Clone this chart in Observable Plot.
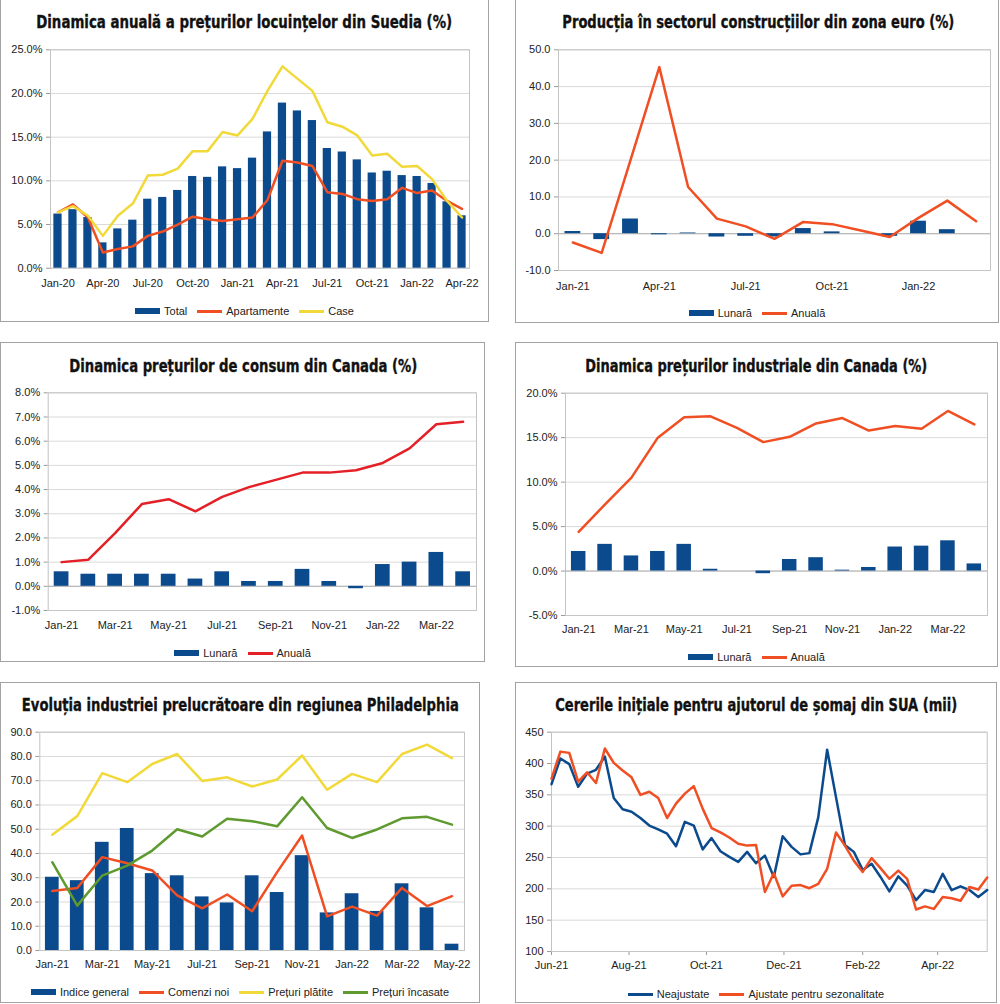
<!DOCTYPE html>
<html><head><meta charset="utf-8">
<script src="https://cdn.jsdelivr.net/npm/d3@7"></script>
<script src="https://cdn.jsdelivr.net/npm/@observablehq/plot@0.6"></script>
<style>
body{margin:0;background:#fff;}
#page{position:relative;width:1000px;height:1004px;overflow:hidden;background:#fff;font-family:"Liberation Sans",Arial,sans-serif;}
.box{position:absolute;border:1.5px solid #a3a3a3;box-sizing:border-box;}
.title{position:absolute;white-space:nowrap;font-family:'Liberation Sans Narrow','DejaVu Sans Condensed','Arial Narrow','Liberation Sans',sans-serif;font-weight:700;font-size:18.5px;line-height:22px;color:#111;-webkit-text-stroke:0.35px #111;transform-origin:50% 50%;}
.legend{position:absolute;display:flex;justify-content:center;align-items:center;font-size:11px;color:#222;height:14px;white-space:nowrap;}
.sw{display:inline-block;width:25px;margin-right:4px;}
.lab{margin-right:10px;}
.lab:last-child{margin-right:0;}
#page svg [aria-label="y-axis tick"], #page svg [aria-label="x-axis tick"]{color:#9a9a9a;}
#page svg .tick line{stroke:#9a9a9a;}
</style></head><body><div id="page"></div><script>
// ---------- DATA ----------
// 1. Sweden house prices
const sweMonths = ["Jan-20","Feb-20","Mar-20","Apr-20","May-20","Jun-20","Jul-20","Aug-20","Sep-20","Oct-20","Nov-20","Dec-20","Jan-21","Feb-21","Mar-21","Apr-21","May-21","Jun-21","Jul-21","Aug-21","Sep-21","Oct-21","Nov-21","Dec-21","Jan-22","Feb-22","Mar-22","Apr-22"];
const sweTicks = ["Jan-20","Apr-20","Jul-20","Oct-20","Jan-21","Apr-21","Jul-21","Oct-21","Jan-22","Apr-22"];
const sweTotal = [6.2,6.7,5.8,2.9,4.5,5.5,7.9,8.1,8.9,10.5,10.4,11.6,11.4,12.6,15.6,18.9,18.0,16.9,13.7,13.3,12.4,10.9,11.1,10.6,10.5,9.7,7.6,6.0];
const sweApart = [6.4,7.3,5.8,1.8,2.2,2.5,3.7,4.2,5.0,5.9,5.6,5.4,5.6,5.8,7.8,12.3,12.1,11.7,8.7,8.5,7.9,7.7,7.9,9.2,8.6,8.9,7.7,6.8];
const sweCase = [6.4,7.1,6.0,3.7,6.0,7.4,10.6,10.7,11.4,13.4,13.4,15.6,15.2,17.1,20.3,23.1,21.7,20.3,16.7,16.2,15.2,12.9,13.1,11.6,11.7,10.2,7.7,5.8];
const sweY = [0,5,10,15,20,25];

// 2. Euro area construction
const euMonths = ["Jan-21","Feb-21","Mar-21","Apr-21","May-21","Jun-21","Jul-21","Aug-21","Sep-21","Oct-21","Nov-21","Dec-21","Jan-22","Feb-22","Mar-22"];
const euTicks = ["Jan-21","Apr-21","Jul-21","Oct-21","Jan-22"];
const euMonthly = [0.6,-1.6,4.0,-0.3,0.2,-0.9,-0.7,-0.9,1.4,0.5,0.0,-0.7,3.4,1.1,null];
const euAnnual = [-2.4,-5.2,20.0,45.3,12.7,4.1,2.0,-1.4,3.2,2.6,0.9,-0.9,4.3,9.0,3.4];
const euY = [-10,0,10,20,30,40,50];

// 3. Canada CPI
const caMonths = ["Jan-21","Feb-21","Mar-21","Apr-21","May-21","Jun-21","Jul-21","Aug-21","Sep-21","Oct-21","Nov-21","Dec-21","Jan-22","Feb-22","Mar-22","Apr-22"];
const caTicks = ["Jan-21","Mar-21","May-21","Jul-21","Sep-21","Nov-21","Jan-22","Mar-22"];
const cpiMonthly = [0.6,0.5,0.5,0.5,0.5,0.3,0.6,0.2,0.2,0.7,0.2,-0.1,0.9,1.0,1.4,0.6];
const cpiAnnual = [1.0,1.1,2.2,3.4,3.6,3.1,3.7,4.1,4.4,4.7,4.7,4.8,5.1,5.7,6.7,6.8];
const cpiY = [-1,0,1,2,3,4,5,6,7,8];

// 4. Canada industrial prices
const ippiMonthly = [2.2,3.0,1.7,2.2,3.0,0.2,0.0,-0.3,1.3,1.5,0.1,0.4,2.7,2.8,3.4,0.8];
const ippiAnnual = [4.4,7.5,10.5,15.0,17.3,17.4,16.1,14.5,15.1,16.6,17.2,15.8,16.3,16.0,18.0,16.5];
const ippiY = [-5,0,5,10,15,20];

// 5. Philadelphia manufacturing
const phMonths = ["Jan-21","Feb-21","Mar-21","Apr-21","May-21","Jun-21","Jul-21","Aug-21","Sep-21","Oct-21","Nov-21","Dec-21","Jan-22","Feb-22","Mar-22","Apr-22","May-22"];
const phTicks = ["Jan-21","Mar-21","May-21","Jul-21","Sep-21","Nov-21","Jan-22","Mar-22","May-22"];
const phGeneral = [30.2,28.8,44.6,50.3,31.7,30.8,22.1,19.6,30.8,23.9,39.1,15.5,23.4,16.1,27.5,17.6,2.6];
const phOrders = [24.5,25.8,38.5,36.0,33.0,22.7,17.4,23.1,16.2,32.3,47.4,14.1,18.1,14.4,25.8,18.3,22.4];
const phPaid = [47.7,55.4,73.1,69.4,76.9,81.0,69.9,71.4,67.6,70.5,80.4,66.3,72.8,69.4,81.0,84.9,79.3];
const phReceived = [36.4,18.5,30.9,35.0,41.2,50.0,47.0,54.3,53.3,51.2,63.2,50.5,46.4,49.9,54.5,55.1,51.9];
const phY = [0,10,20,30,40,50,60,70,80,90];

// 6. US initial jobless claims (weekly, thousands)
const claimWeeks = ["2021-06-01","2021-06-08","2021-06-15","2021-06-22","2021-06-29","2021-07-06","2021-07-13","2021-07-20","2021-07-27","2021-08-03","2021-08-10","2021-08-17","2021-08-24","2021-08-31","2021-09-07","2021-09-14","2021-09-21","2021-09-28","2021-10-05","2021-10-12","2021-10-19","2021-10-26","2021-11-02","2021-11-09","2021-11-16","2021-11-23","2021-11-30","2021-12-07","2021-12-14","2021-12-21","2021-12-28","2022-01-04","2022-01-11","2022-01-18","2022-01-25","2022-02-01","2022-02-08","2022-02-15","2022-02-22","2022-03-01","2022-03-08","2022-03-15","2022-03-22","2022-03-29","2022-04-05","2022-04-12","2022-04-19","2022-04-26","2022-05-03","2022-05-10"];
const claimsNSA = [367,408,399,363,384,390,411,345,327,323,313,301,295,288,268,307,301,263,281,260,251,243,259,241,253,219,284,267,255,257,314,422,346,270,259,230,240,219,196,220,205,182,198,195,224,198,204,198,187,198];
const claimsSA = [376,419,417,371,386,369,424,401,389,378,350,355,345,313,336,352,364,328,297,290,282,272,269,270,195,225,188,205,206,201,208,232,290,269,245,227,249,233,216,229,216,167,172,168,187,185,181,203,199,218];
const claimTicks = ["2021-06-01","2021-08-01","2021-10-01","2021-12-01","2022-02-01","2022-04-01"];
const claimY = [100,150,200,250,300,350,400,450];

// ---------- STYLE ----------
const NAVY = "#0b4a8c", ORANGE = "#f04e23", YELLOW = "#f2d93a", GREEN = "#5e9a2f", RED = "#e41f26";
const page = document.getElementById("page");

function box(l, t, r, b) {
  const d = document.createElement("div");
  d.className = "box";
  Object.assign(d.style, {left: l + "px", top: t + "px", width: (r - l) + "px", height: (b - t) + "px"});
  page.appendChild(d);
}
function title(text, cx, baseline, tw) {
  const d = document.createElement("div");
  d.className = "title";
  d.textContent = text;
  page.appendChild(d);
  const nat = d.getBoundingClientRect().width;
  d.style.left = (cx - nat / 2) + "px";
  d.style.top = (baseline - 17) + "px";
  d.style.transform = "scaleX(" + (tw / nat) + ")";
}
function legend(items, l, w, cy) {
  const d = document.createElement("div");
  d.className = "legend";
  Object.assign(d.style, {left: l + "px", width: w + "px", top: (cy - 7) + "px"});
  for (const it of items) {
    const s = document.createElement("span");
    s.className = "sw";
    s.style.height = it.bar ? "6px" : "3px";
    s.style.background = it.color;
    const t = document.createElement("span");
    t.className = "lab";
    t.textContent = it.label;
    d.appendChild(s); d.appendChild(t);
  }
  page.appendChild(d);
}
function plot(g, x, y, marks) {
  const chart = Plot.plot({
    width: g.svgW, height: g.svgH,
    marginLeft: g.px0 - g.svgL, marginRight: g.svgL + g.svgW - g.px1,
    marginTop: g.py0 - g.svgT, marginBottom: g.svgT + g.svgH - g.py1,
    style: {background: "transparent", fontFamily: "Liberation Sans, Arial, sans-serif", fontSize: "11px", color: "#222", overflow: "visible"},
    x, y, marks
  });
  chart.style.position = "absolute";
  chart.style.left = g.svgL + "px";
  chart.style.top = g.svgT + "px";
  page.appendChild(chart);
}
const pct1 = d => d.toFixed(1) + "%";
const dec1 = d => d.toFixed(1);
function bandX(domain, ticks, pad) {
  return {type: "band", domain, ticks, paddingInner: 0.45, paddingOuter: 0.225, round: false, tickSize: 0, tickPadding: pad, label: null};
}
function linY(domain, ticks, fmt) {
  return {domain, ticks, tickFormat: fmt, tickSize: 4, tickPadding: 4, label: null};
}
const GRID = "#dadada", FRAME = "#c4c4c4", AXIS = "#b0b0b0";

// ---------- PANEL 1 ----------
box(0, -2, 489, 322);
title("Dinamica anuală a prețurilor locuințelor din Suedia (%)", 244.5, 28.3, 416);
{
  const data = sweMonths.map((m, i) => ({m, t: sweTotal[i], a: sweApart[i], c: sweCase[i]}));
  plot({svgL: 2, svgT: 38, svgW: 484, svgH: 257, px0: 50, px1: 469, py0: 49.3, py1: 267.7},
    bandX(sweMonths, sweTicks, 11), linY([0, 25], sweY, pct1),
    [
      Plot.ruleY(sweY, {stroke: GRID}),
      Plot.frame({stroke: FRAME}),
      Plot.barY(data, {x: "m", y: "t", fill: NAVY}),
      Plot.line(data, {x: "m", y: "a", stroke: ORANGE, strokeWidth: 2.5}),
      Plot.line(data, {x: "m", y: "c", stroke: YELLOW, strokeWidth: 2.5})
    ]);
}
legend([{bar: true, color: NAVY, label: "Total"}, {color: ORANGE, label: "Apartamente"}, {color: YELLOW, label: "Case"}], 0, 489, 311);

// ---------- PANEL 2 ----------
box(515, -2, 999, 323);
title("Producția în sectorul construcțiilor din zona euro (%)", 758, 28.3, 392);
{
  const data = euMonths.map((m, i) => ({m, b: euMonthly[i], a: euAnnual[i]}));
  plot({svgL: 517, svgT: 38, svgW: 479, svgH: 260, px0: 558, px1: 990, py0: 49.3, py1: 270},
    bandX(euMonths, euTicks, 12), linY([-10, 50], euY, dec1),
    [
      Plot.ruleY(euY, {stroke: GRID}),
      Plot.frame({stroke: FRAME}),
      Plot.ruleY([0], {stroke: AXIS}),
      Plot.barY(data.filter(d => d.b != null), {x: "m", y: "b", fill: NAVY}),
      Plot.line(data, {x: "m", y: "a", stroke: ORANGE, strokeWidth: 2.5})
    ]);
}
legend([{bar: true, color: NAVY, label: "Lunară"}, {color: ORANGE, label: "Anuală"}], 515, 484, 313);

// ---------- PANEL 3 ----------
box(0, 342, 485, 662);
title("Dinamica prețurilor de consum din Canada (%)", 243, 371.7, 348);
{
  const data = caMonths.map((m, i) => ({m, b: cpiMonthly[i], a: cpiAnnual[i]}));
  plot({svgL: 2, svgT: 382, svgW: 481, svgH: 256, px0: 47.7, px1: 476, py0: 392.3, py1: 610},
    bandX(caMonths, caTicks, 11), linY([-1, 8], cpiY, pct1),
    [
      Plot.ruleY(cpiY, {stroke: GRID}),
      Plot.frame({stroke: FRAME}),
      Plot.ruleY([0], {stroke: AXIS}),
      Plot.barY(data, {x: "m", y: "b", fill: NAVY}),
      Plot.line(data, {x: "m", y: "a", stroke: RED, strokeWidth: 2.5})
    ]);
}
legend([{bar: true, color: NAVY, label: "Lunară"}, {color: RED, label: "Anuală"}], 0, 485, 653);

// ---------- PANEL 4 ----------
box(515, 342, 998, 667);
title("Dinamica prețurilor industriale din Canada (%)", 756, 371.7, 342);
{
  const data = caMonths.map((m, i) => ({m, b: ippiMonthly[i], a: ippiAnnual[i]}));
  plot({svgL: 517, svgT: 382, svgW: 479, svgH: 261, px0: 565, px1: 987, py0: 392.7, py1: 615},
    bandX(caMonths, caTicks, 10), linY([-5, 20], ippiY, pct1),
    [
      Plot.ruleY(ippiY, {stroke: GRID}),
      Plot.frame({stroke: FRAME}),
      Plot.ruleY([0], {stroke: AXIS}),
      Plot.barY(data, {x: "m", y: "b", fill: NAVY}),
      Plot.line(data, {x: "m", y: "a", stroke: ORANGE, strokeWidth: 2.5})
    ]);
}
legend([{bar: true, color: NAVY, label: "Lunară"}, {color: ORANGE, label: "Anuală"}], 515, 483, 657);

// ---------- PANEL 5 ----------
box(0, 682, 480, 1003);
title("Evoluția industriei prelucrătoare din regiunea Philadelphia", 240.5, 711, 437);
{
  const data = phMonths.map((m, i) => ({m, g: phGeneral[i], o: phOrders[i], p: phPaid[i], r: phReceived[i]}));
  plot({svgL: 2, svgT: 721, svgW: 476, svgH: 257, px0: 39.3, px1: 464, py0: 731.7, py1: 950},
    bandX(phMonths, phTicks, 10), linY([0, 90], phY, dec1),
    [
      Plot.ruleY(phY, {stroke: GRID}),
      Plot.frame({stroke: FRAME}),
      Plot.barY(data, {x: "m", y: "g", fill: NAVY}),
      Plot.line(data, {x: "m", y: "o", stroke: ORANGE, strokeWidth: 2.5}),
      Plot.line(data, {x: "m", y: "p", stroke: YELLOW, strokeWidth: 2.5}),
      Plot.line(data, {x: "m", y: "r", stroke: GREEN, strokeWidth: 2.5})
    ]);
}
legend([{bar: true, color: NAVY, label: "Indice general"}, {color: ORANGE, label: "Comenzi noi"}, {color: YELLOW, label: "Prețuri plătite"}, {color: GREEN, label: "Prețuri încasate"}], 0, 480, 992);

// ---------- PANEL 6 ----------
box(515, 682, 997, 1003);
title("Cererile inițiale pentru ajutorul de șomaj din SUA (mii)", 756, 711, 402);
{
  const data = claimWeeks.map((w, i) => ({d: new Date(w), n: claimsNSA[i], s: claimsSA[i]}));
  plot({svgL: 517, svgT: 721, svgW: 478, svgH: 259, px0: 551, px1: 986.7, py0: 731.7, py1: 951},
    {type: "utc", domain: [new Date("2021-06-01"), new Date("2022-05-10")], ticks: claimTicks.map(d => new Date(d)), tickFormat: d3.utcFormat("%b-%y"), tickSize: 4, tickPadding: 6, label: null},
    linY([100, 450], claimY, d => String(d)),
    [
      Plot.ruleY(claimY, {stroke: GRID}),
      Plot.frame({stroke: FRAME}),
      Plot.line(data, {x: "d", y: "n", stroke: NAVY, strokeWidth: 2.5}),
      Plot.line(data, {x: "d", y: "s", stroke: ORANGE, strokeWidth: 2.5})
    ]);
}
legend([{color: NAVY, label: "Neajustate"}, {color: ORANGE, label: "Ajustate pentru sezonalitate"}], 515, 482, 994);
</script></body></html>
